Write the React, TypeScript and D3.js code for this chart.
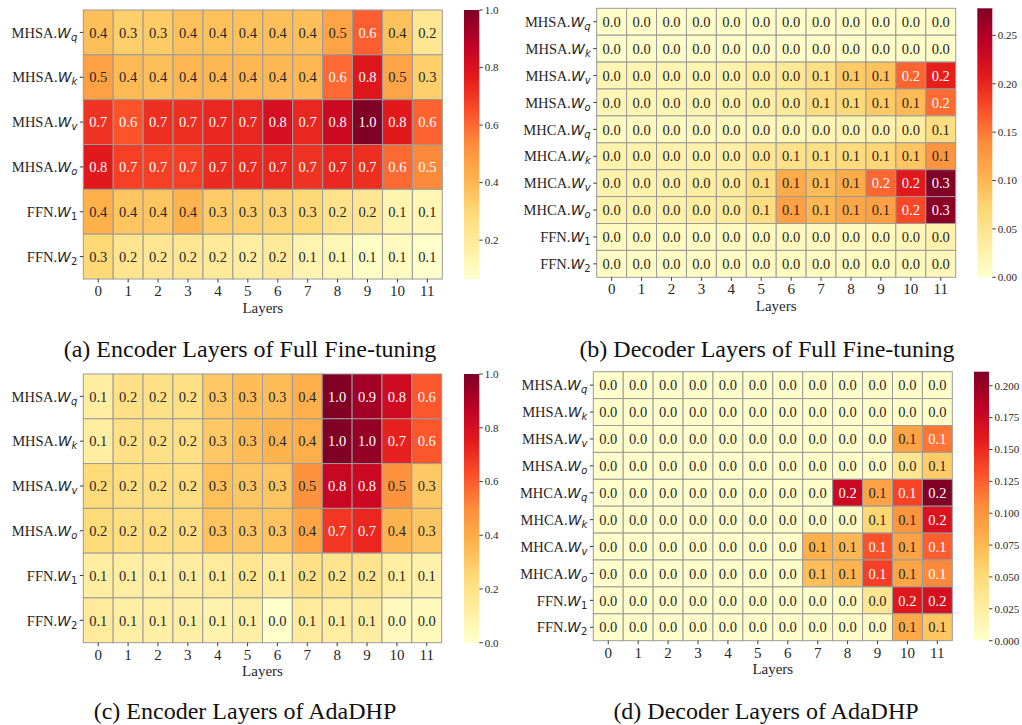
import React from "react";
import * as d3 from "d3";

// ---------- DATA ----------
const LAYERS = ["0", "1", "2", "3", "4", "5", "6", "7", "8", "9", "10", "11"];

const ENC_ROW_PREFIX = ["MHSA.", "MHSA.", "MHSA.", "MHSA.", "FFN.", "FFN."];
const ENC_ROW_SUB = ["q", "k", "v", "o", "1", "2"];
const DEC_ROW_PREFIX = ["MHSA.", "MHSA.", "MHSA.", "MHSA.", "MHCA.", "MHCA.", "MHCA.", "MHCA.", "FFN.", "FFN."];
const DEC_ROW_SUB = ["q", "k", "v", "o", "q", "k", "v", "o", "1", "2"];

// (a) Encoder layers, full fine-tuning
const encFullWq = [0.38, 0.33, 0.34, 0.37, 0.37, 0.37, 0.38, 0.38, 0.46, 0.62, 0.37, 0.22];
const encFullWk = [0.47, 0.39, 0.38, 0.4, 0.4, 0.4, 0.4, 0.4, 0.6, 0.78, 0.46, 0.33];
const encFullWv = [0.71, 0.64, 0.72, 0.72, 0.74, 0.74, 0.81, 0.74, 0.84, 1.0, 0.77, 0.61];
const encFullWo = [0.77, 0.68, 0.68, 0.68, 0.73, 0.73, 0.74, 0.71, 0.74, 0.72, 0.6, 0.54];
const encFullW1 = [0.42, 0.36, 0.36, 0.41, 0.34, 0.33, 0.31, 0.3, 0.24, 0.22, 0.14, 0.13];
const encFullW2 = [0.3, 0.23, 0.22, 0.22, 0.2, 0.18, 0.2, 0.14, 0.13, 0.08, 0.1, 0.065];

// (b) Decoder layers, full fine-tuning
const decFullSaWq = [0.002, 0.002, 0.002, 0.002, 0.002, 0.002, 0.002, 0.002, 0.003, 0.003, 0.002, 0.003];
const decFullSaWk = [0.0, 0.002, 0.002, 0.002, 0.002, 0.002, 0.002, 0.002, 0.003, 0.003, 0.002, 0.003];
const decFullSaWv = [0.018, 0.02, 0.02, 0.022, 0.025, 0.035, 0.042, 0.058, 0.082, 0.09, 0.161, 0.205];
const decFullSaWo = [0.018, 0.02, 0.02, 0.022, 0.025, 0.03, 0.04, 0.06, 0.068, 0.083, 0.097, 0.158];
const decFullCaWq = [0.01, 0.01, 0.01, 0.012, 0.012, 0.014, 0.016, 0.018, 0.02, 0.025, 0.035, 0.06];
const decFullCaWk = [0.025, 0.025, 0.025, 0.027, 0.03, 0.045, 0.055, 0.058, 0.064, 0.072, 0.087, 0.132];
const decFullCaWv = [0.025, 0.025, 0.027, 0.035, 0.038, 0.06, 0.11, 0.096, 0.11, 0.16, 0.21, 0.278];
const decFullCaWo = [0.025, 0.025, 0.027, 0.035, 0.038, 0.06, 0.12, 0.1, 0.115, 0.12, 0.178, 0.272];
const decFullW1 = [0.01, 0.01, 0.01, 0.01, 0.01, 0.012, 0.012, 0.012, 0.012, 0.012, 0.015, 0.025];
const decFullW2 = [0.008, 0.008, 0.008, 0.008, 0.008, 0.01, 0.01, 0.01, 0.01, 0.01, 0.012, 0.015];

// (c) Encoder layers, AdaDHP
const encAdaWq = [0.12, 0.2, 0.2, 0.21, 0.3, 0.34, 0.34, 0.39, 1.0, 0.93, 0.82, 0.61];
const encAdaWk = [0.12, 0.2, 0.2, 0.21, 0.3, 0.34, 0.37, 0.39, 1.0, 0.96, 0.73, 0.61];
const encAdaWv = [0.24, 0.22, 0.22, 0.22, 0.33, 0.31, 0.31, 0.48, 0.84, 0.83, 0.48, 0.3];
const encAdaWo = [0.24, 0.22, 0.22, 0.22, 0.32, 0.31, 0.32, 0.42, 0.68, 0.72, 0.37, 0.31];
const encAdaW1 = [0.12, 0.12, 0.12, 0.13, 0.14, 0.17, 0.13, 0.2, 0.18, 0.18, 0.12, 0.1];
const encAdaW2 = [0.14, 0.11, 0.11, 0.11, 0.09, 0.11, 0.0, 0.14, 0.12, 0.12, 0.04, 0.045];

// (d) Decoder layers, AdaDHP
const decAdaSaWq = [0.0, 0.001, 0.001, 0.001, 0.001, 0.001, 0.001, 0.001, 0.001, 0.001, 0.001, 0.001];
const decAdaSaWk = [0.001, 0.001, 0.001, 0.001, 0.001, 0.001, 0.001, 0.001, 0.001, 0.002, 0.002, 0.002];
const decAdaSaWv = [0.001, 0.001, 0.001, 0.001, 0.001, 0.001, 0.001, 0.002, 0.002, 0.004, 0.09, 0.115];
const decAdaSaWo = [0.001, 0.001, 0.001, 0.001, 0.001, 0.001, 0.001, 0.002, 0.002, 0.004, 0.036, 0.061];
const decAdaCaWq = [0.001, 0.001, 0.001, 0.001, 0.001, 0.002, 0.002, 0.003, 0.175, 0.09, 0.138, 0.211];
const decAdaCaWk = [0.001, 0.001, 0.001, 0.001, 0.001, 0.002, 0.002, 0.003, 0.006, 0.055, 0.1, 0.165];
const decAdaCaWv = [0.001, 0.001, 0.001, 0.001, 0.001, 0.002, 0.003, 0.08, 0.075, 0.13, 0.09, 0.125];
const decAdaCaWo = [0.001, 0.001, 0.001, 0.001, 0.001, 0.002, 0.003, 0.07, 0.077, 0.14, 0.088, 0.107];
const decAdaW1 = [0.001, 0.001, 0.001, 0.001, 0.001, 0.002, 0.002, 0.003, 0.006, 0.035, 0.16, 0.168];
const decAdaW2 = [0.001, 0.001, 0.001, 0.001, 0.001, 0.002, 0.002, 0.003, 0.004, 0.006, 0.085, 0.065];

const TICKS_A = [0.2, 0.4, 0.6, 0.8, 1.0];
const TICKS_B = [0.0, 0.05, 0.1, 0.15, 0.2, 0.25];
const TICKS_C = [0.0, 0.2, 0.4, 0.6, 0.8, 1.0];
const TICKS_D = [0.0, 0.025, 0.05, 0.075, 0.1, 0.125, 0.15, 0.175, 0.2];

const CAPTIONS = [
  "(a) Encoder Layers of Full Fine-tuning",
  "(b) Decoder Layers of Full Fine-tuning",
  "(c) Encoder Layers of AdaDHP",
  "(d) Decoder Layers of AdaDHP",
];

const YLORRD = ["#ffffcc", "#ffeda0", "#fed976", "#feb24c", "#fd8d3c", "#fc4e2a", "#e31a1c", "#bd0026", "#800026"];

// ---------- HELPERS ----------
const SERIF = "'Liberation Serif', 'Times New Roman', Times, serif";
const MATH = "'DejaVu Sans', sans-serif";
const DARK = "#262626";

function makeCmap(lo: number, hi: number) {
  return d3
    .scaleLinear<string>()
    .domain(d3.range(9).map((i) => lo + ((hi - lo) * i) / 8))
    .range(YLORRD)
    .interpolate(d3.interpolateRgb)
    .clamp(true);
}

function relLum(c: string) {
  const rgb = d3.rgb(c);
  const f = (v: number) => {
    v /= 255;
    return v <= 0.03928 ? v / 12.92 : Math.pow((v + 0.055) / 1.055, 2.4);
  };
  return 0.2126 * f(rgb.r) + 0.7152 * f(rgb.g) + 0.0722 * f(rgb.b);
}

type PanelProps = {
  id: string;
  data: number[][];
  prefixes: string[];
  subs: string[];
  box: [number, number, number, number];
  cbX: [number, number];
  ticks: number[];
  tickFmt: string;
  caption: string;
  captionX: number;
  captionY: number;
};

function Panel({ id, data, prefixes, subs, box, cbX, ticks, tickFmt, caption, captionX, captionY }: PanelProps) {
  const [x0, x1, y0, y1] = box;
  const x = d3.scaleBand<string>().domain(LAYERS).range([x0, x1]);
  const rowKeys = data.map((_, i) => String(i));
  const y = d3.scaleBand<string>().domain(rowKeys).range([y0, y1]);
  const flat = data.flat();
  const [lo, hi] = d3.extent(flat) as [number, number];
  const color = makeCmap(lo, hi);
  const cb = d3.scaleLinear().domain([lo, hi]).range([y1, y0]);
  const fmtCell = d3.format(".1f");
  const fmtTick = d3.format(tickFmt);
  const gradId = "grad-" + id;
  const nStops = 64;
  const tol = (hi - lo) * 1e-6;

  return (
    <g>
      <defs>
        <linearGradient id={gradId} x1="0" y1="1" x2="0" y2="0">
          {d3.range(nStops + 1).map((i) => (
            <stop key={i} offset={i / nStops} stopColor={color(lo + ((hi - lo) * i) / nStops)} />
          ))}
        </linearGradient>
      </defs>
      {/* cells */}
      {data.map((row, r) =>
        row.map((v, c) => {
          const fill = color(v);
          const cx = (x(LAYERS[c]) as number) + x.bandwidth() / 2;
          const cy = (y(rowKeys[r]) as number) + y.bandwidth() / 2;
          return (
            <g key={r + "-" + c}>
              <rect
                x={x(LAYERS[c])}
                y={y(rowKeys[r])}
                width={x.bandwidth()}
                height={y.bandwidth()}
                fill={fill}
                stroke="#9a9a9a"
                strokeWidth={1}
              />
              <text
                x={cx}
                y={cy}
                dy="0.36em"
                textAnchor="middle"
                fontFamily={SERIF}
                fontSize={14.5}
                fill={relLum(fill) > 0.408 ? DARK : "#ffffff"}
              >
                {fmtCell(v)}
              </text>
            </g>
          );
        })
      )}
      {/* y axis */}
      {rowKeys.map((k, r) => {
        const cy = (y(k) as number) + y.bandwidth() / 2;
        const isDigit = /\d/.test(subs[r]);
        return (
          <g key={"yl" + k}>
            <line x1={x0 - 3.5} x2={x0} y1={cy} y2={cy} stroke={DARK} strokeWidth={0.9} />
            <text x={x0 - 6} y={cy} dy="0.36em" textAnchor="end" fontSize={14.5} fill={DARK}>
              <tspan fontFamily={SERIF}>{prefixes[r]}</tspan>
              <tspan fontFamily={MATH} fontStyle="italic" fontSize={14}>
                W
              </tspan>
              <tspan fontFamily={MATH} fontStyle={isDigit ? "normal" : "italic"} fontSize={10} dy={3}>
                {subs[r]}
              </tspan>
            </text>
          </g>
        );
      })}
      {/* x axis */}
      {LAYERS.map((l) => {
        const cx = (x(l) as number) + x.bandwidth() / 2;
        return (
          <g key={"xl" + l}>
            <line x1={cx} x2={cx} y1={y1} y2={y1 + 3.5} stroke={DARK} strokeWidth={0.9} />
            <text x={cx} y={y1 + 17} textAnchor="middle" fontFamily={SERIF} fontSize={15} fill={DARK}>
              {l}
            </text>
          </g>
        );
      })}
      <text x={(x0 + x1) / 2} y={y1 + 33.5} textAnchor="middle" fontFamily={SERIF} fontSize={15} fill={DARK}>
        Layers
      </text>
      {/* colorbar */}
      <rect x={cbX[0]} y={y0} width={cbX[1] - cbX[0]} height={y1 - y0} fill={`url(#${gradId})`} />
      {ticks
        .filter((t) => t >= lo - tol && t <= hi + tol)
        .map((t) => (
          <g key={"cb" + t}>
            <line x1={cbX[1]} x2={cbX[1] + 3.5} y1={cb(t)} y2={cb(t)} stroke={DARK} strokeWidth={0.9} />
            <text x={cbX[1] + 5.5} y={cb(t)} dy="0.35em" fontFamily={SERIF} fontSize={11} fill={DARK}>
              {fmtTick(t)}
            </text>
          </g>
        ))}
      {/* caption */}
      <text x={captionX} y={captionY} textAnchor="middle" fontFamily={SERIF} fontSize={24} fill="#111">
        {caption}
      </text>
    </g>
  );
}

export default function App() {
  const encFull = [encFullWq, encFullWk, encFullWv, encFullWo, encFullW1, encFullW2];
  const decFull = [decFullSaWq, decFullSaWk, decFullSaWv, decFullSaWo, decFullCaWq, decFullCaWk, decFullCaWv, decFullCaWo, decFullW1, decFullW2];
  const encAda = [encAdaWq, encAdaWk, encAdaWv, encAdaWo, encAdaW1, encAdaW2];
  const decAda = [decAdaSaWq, decAdaSaWk, decAdaSaWv, decAdaSaWo, decAdaCaWq, decAdaCaWk, decAdaCaWv, decAdaCaWo, decAdaW1, decAdaW2];

  return (
    <svg
      width={1022}
      height={725}
      style={{ position: "absolute", left: 0, top: 0, background: "#fff" }}
    >
      <rect width={1022} height={725} fill="#fff" />
      <Panel
        id="a"
        data={encFull}
        prefixes={ENC_ROW_PREFIX}
        subs={ENC_ROW_SUB}
        box={[83.3, 442.3, 10, 279]}
        cbX={[464, 479.3]}
        ticks={TICKS_A}
        tickFmt=".1f"
        caption={CAPTIONS[0]}
        captionX={250}
        captionY={357}
      />
      <Panel
        id="b"
        data={decFull}
        prefixes={DEC_ROW_PREFIX}
        subs={DEC_ROW_SUB}
        box={[596.7, 955.7, 8.3, 277.3]}
        cbX={[977.3, 992.3]}
        ticks={TICKS_B}
        tickFmt=".2f"
        caption={CAPTIONS[1]}
        captionX={767}
        captionY={357}
      />
      <Panel
        id="c"
        data={encAda}
        prefixes={ENC_ROW_PREFIX}
        subs={ENC_ROW_SUB}
        box={[83.3, 441.7, 374, 642.7]}
        cbX={[464, 479.3]}
        ticks={TICKS_C}
        tickFmt=".1f"
        caption={CAPTIONS[2]}
        captionX={245}
        captionY={719}
      />
      <Panel
        id="d"
        data={decAda}
        prefixes={DEC_ROW_PREFIX}
        subs={DEC_ROW_SUB}
        box={[593.3, 952.3, 371.7, 640.7]}
        cbX={[974, 989]}
        ticks={TICKS_D}
        tickFmt=".3f"
        caption={CAPTIONS[3]}
        captionX={766}
        captionY={719}
      />
    </svg>
  );
}
